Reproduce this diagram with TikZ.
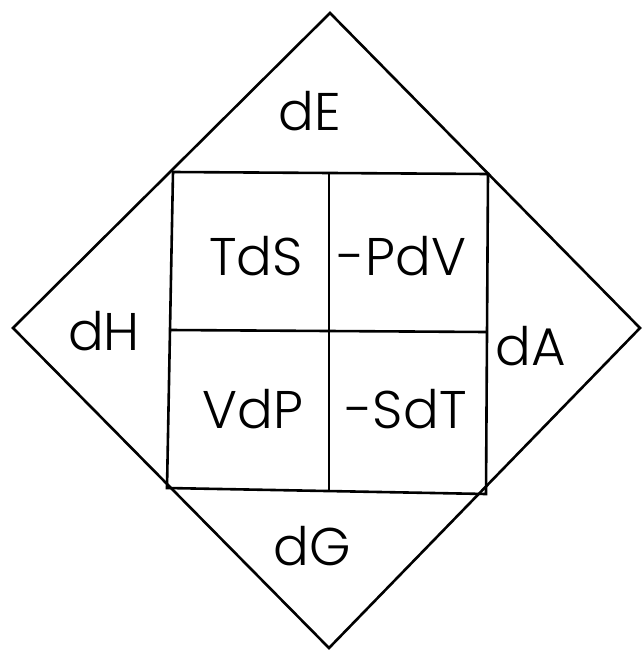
\documentclass[tikz,border=0pt]{standalone}
\usepackage{fontspec}
\newfontfamily\lett{Poppins Light}
\begin{document}
\begin{tikzpicture}[x=1pt,y=-1pt,
  edge/.style={line width=2.6pt,line join=miter},
  lbl/.style={font=\lett\fontsize{53}{60}\selectfont,anchor=base,inner sep=0pt}]
\useasboundingbox (0,0) rectangle (642,651);
\coordinate (T) at (330,13);
\coordinate (R) at (640,328);
\coordinate (B) at (329,648);
\coordinate (L) at (13,328);
\coordinate (a) at (173,172);
\coordinate (b) at (488,174);
\coordinate (c) at (486,494);
\coordinate (d) at (167,488);
\coordinate (mt) at (329,173);
\coordinate (mb) at (329,492);
\coordinate (ml) at (170,330);
\coordinate (mr) at (487,332);
\draw[edge] (T) -- (R) -- (B) -- (L) -- cycle;
\draw[edge] (a) -- (b) -- (c) -- (d) -- cycle;
\draw[edge] (mt) -- (mb);
\draw[edge] (ml) -- (mr);
\node[lbl] (dE) at (310,130) {dE};
\node[lbl] (dH) at (104,350) {dH};
\node[lbl] (dA) at (531,365) {dA};
\node[lbl] (dG) at (312,565) {dG};
\node[lbl] (TdS) at (256,275) {TdS};
\node[lbl] (PdV) at (402,275) {-PdV};
\node[lbl] (VdP) at (253,428) {VdP};
\node[lbl] (SdT) at (406,428) {-SdT};
\end{tikzpicture}
\end{document}
